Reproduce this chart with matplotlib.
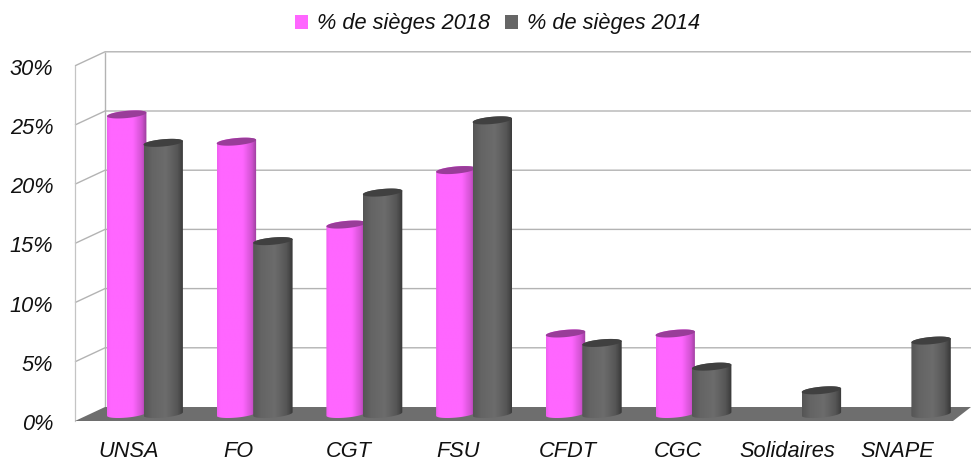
import matplotlib
matplotlib.use("Agg")
import matplotlib.pyplot as plt
import numpy as np
from matplotlib.colors import LinearSegmentedColormap
from matplotlib.patches import Patch, Polygon

# data
categories = ["UNSA", "FO", "CGT", "FSU", "CFDT", "CGC", "Solidaires", "SNAPE"]
sieges_2018 = [25.3, 23.0, 16.0, 20.6, 6.8, 6.8, None, None]
sieges_2014 = [22.9, 14.6, 18.7, 24.8, 6.0, 4.0, 2.0, 6.2]
yticks = [0, 5, 10, 15, 20, 25, 30]
ytick_labels = ["0%", "5%", "10%", "15%", "20%", "25%", "30%"]

plt.rcParams["font.family"] = ["Liberation Sans", "DejaVu Sans"]
plt.rcParams["font.style"] = "italic"

W, H = 971, 462
fig = plt.figure(figsize=(W / 100, H / 100), dpi=100)
ax = fig.add_axes([0, 0, 1, 1])

# one category = 109.7 px, one percent = 11.84 px
px_x = 109.7
px_y = 11.84
x0 = 129
y0 = 414
ax.set_xlim(-x0 / px_x, (W - x0) / px_x)
ax.set_ylim((y0 - H) / px_y, y0 / px_y)
ax.axis("off")

def X(p):
    return (p - x0) / px_x

def Y(p):
    return (y0 - p) / px_y

# walls
back = (414 - 407) / px_y
front = (414 - 421) / px_y
left_b, left_f, right_b, right_f = X(105), X(75), X(971), X(953)
line = dict(color="#b3b3b3", lw=1.0, solid_capstyle="butt", zorder=1)
for t in yticks[1:]:
    ax.plot([left_f, left_b, right_b], [t + front, t + back, t + back], **line)
ax.plot([left_b, left_b], [back, 30 + back], **line)
ax.plot([left_f, left_f], [front, 30 + front], color="#c4c4c4", lw=0.9, zorder=1)
ax.add_patch(Polygon([(left_f, front), (left_b, back), (right_b, back), (right_f, front)],
                     closed=True, fc="#6e6e6e", ec="none", zorder=2))

pink_cm = LinearSegmentedColormap.from_list("p", [(0, "#f060f0"), (0.08, "#ff66ff"), (0.65, "#ff66ff"),
                                                  (0.88, "#d052d0"), (1, "#9a3e9a")])
gray_cm = LinearSegmentedColormap.from_list("g", [(0, "#555555"), (0.2, "#646464"), (0.55, "#6c6c6c"),
                                                  (0.85, "#555555"), (1, "#383838")])
grad = np.linspace(0, 1, 64).reshape(1, -1)

def cylinder(left_px, val, cm, top_col, z):
    # half width and ellipse shape in px, converted to data units
    a = 19.7
    b = 3.6
    slope = -0.09
    cx = left_px + a
    t = np.linspace(0, 2 * np.pi, 80)
    dx = a * np.cos(t)
    dy = b * np.sin(t) + slope * dx
    # body outline
    t_low = np.linspace(np.pi, 0, 40)
    low_x = a * np.cos(t_low)
    low_y = b * np.sin(t_low) + slope * low_x
    t_up = np.linspace(0, np.pi, 40)
    up_x = a * np.cos(t_up)
    up_y = -b * np.sin(t_up) + slope * up_x
    xs = np.r_[cx + low_x, cx + up_x]
    base_y = y0
    top_y = y0 - val * px_y
    ys = np.r_[base_y + low_y, top_y + up_y]
    body = Polygon(np.c_[X(xs), Y(ys)], closed=True, fc="none", ec="none", zorder=z)
    ax.add_patch(body)
    im = ax.imshow(grad, cmap=cm, aspect="auto", vmin=0, vmax=1, interpolation="bilinear",
                   extent=[X(cx - a), X(cx + a), Y(base_y + 8), Y(top_y - 8)], zorder=z)
    im.set_clip_path(body)
    ax.add_patch(Polygon(np.c_[X(cx + dx), Y(top_y + dy)], closed=True, fc=top_col, ec="none", zorder=z + 0.1))

for i in range(len(categories)):
    left = 107 + px_x * i
    if sieges_2018[i] is not None:
        cylinder(left, sieges_2018[i], pink_cm, "#993d99", 3 + i * 0.01)
    cylinder(left + 36.5, sieges_2014[i], gray_cm, "#404040", 4 + i * 0.01)

ax.set_xlim(-x0 / px_x, (W - x0) / px_x)
ax.set_ylim((y0 - H) / px_y, y0 / px_y)

for t, lab in zip(yticks, ytick_labels):
    ax.text(X(53.5), t + front - 9 / px_y, lab, ha="right", va="baseline", fontsize=15.7, color="#111111")
for i, c in enumerate(categories):
    ax.text(i, Y(457), c, ha="center", va="baseline", fontsize=15.7, color="#111111")

handles = [Patch(fc="#ff66ff", ec="none", label="% de sièges 2018"),
           Patch(fc="#666666", ec="none", label="% de sièges 2014")]
ax.legend(handles=handles, loc="center", bbox_to_anchor=(497.5 / W, 1 - 24 / H), frameon=False, ncol=2,
          fontsize=15.7, handlelength=0.6, handleheight=0.6, handletextpad=0.4, columnspacing=0.7,
          labelcolor="#111111")

fig.savefig("out.png", dpi=100)
